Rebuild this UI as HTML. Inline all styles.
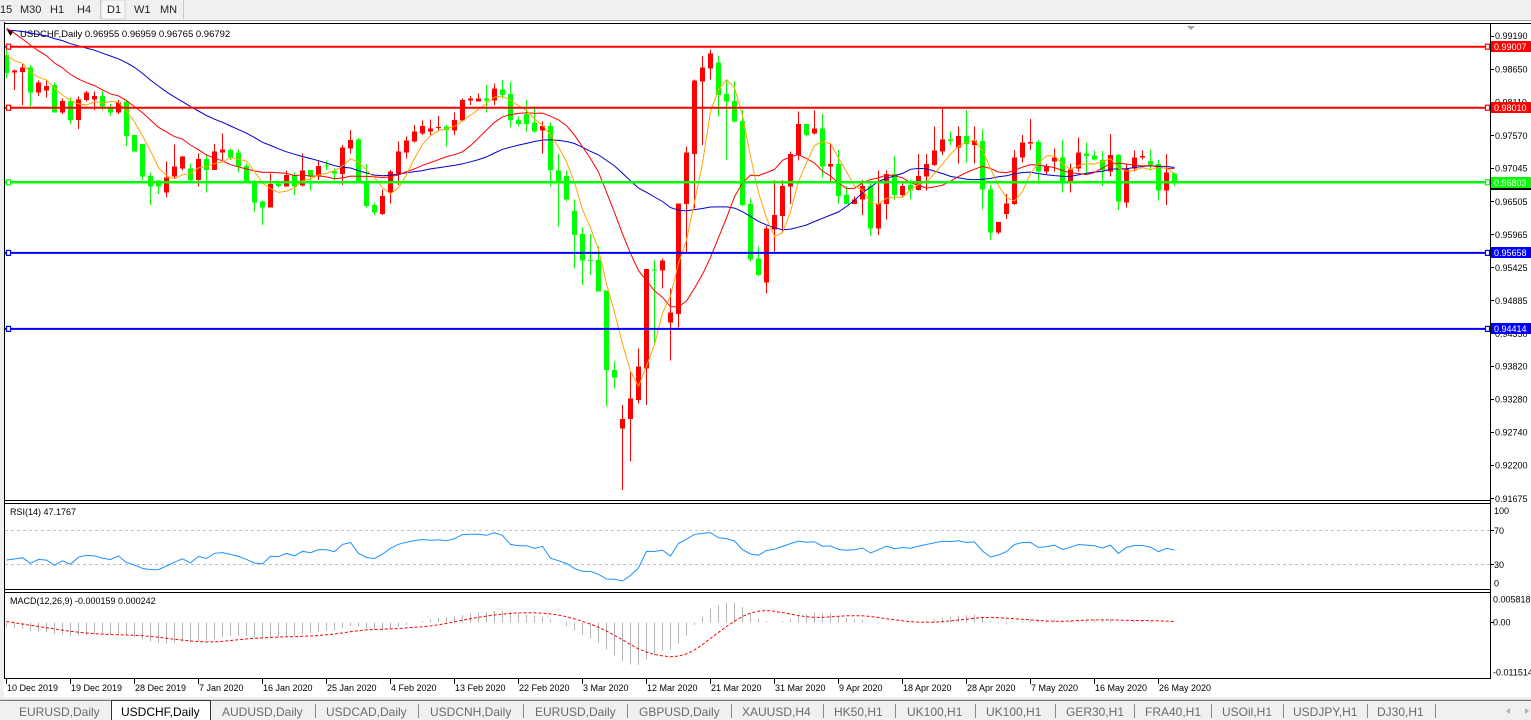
<!DOCTYPE html>
<html><head><meta charset="utf-8">
<style>
html,body{margin:0;padding:0;width:1531px;height:720px;overflow:hidden;background:#fff;}
svg{display:block;font-family:"Liberation Sans",Arial,sans-serif;}
</style></head><body>
<svg id="s" width="1531" height="720" viewBox="0 0 1531 720" xmlns="http://www.w3.org/2000/svg">
<defs>
<clipPath id="cm"><rect x="5" y="24" width="1485" height="477"/></clipPath>
<clipPath id="cr"><rect x="5" y="504" width="1485" height="86"/></clipPath>
<clipPath id="cd"><rect x="5" y="594" width="1485" height="84"/></clipPath>
</defs>
<rect x="0" y="0" width="1531" height="720" fill="#fff"/>
<!-- toolbar -->
<rect x="0" y="0" width="1531" height="20" fill="#f0f0f0"/>
<rect x="101" y="0" width="24" height="19" fill="#f7f7f7" stroke="#d4d4d4"/>
<line x1="100.5" y1="0" x2="100.5" y2="19" stroke="#c8c8c8"/>
<line x1="183.5" y1="0" x2="183.5" y2="19" stroke="#c8c8c8"/>
<g font-size="11" fill="#222">
<text x="0" y="13">15</text><text x="20" y="13">M30</text><text x="50" y="13">H1</text><text x="77" y="13">H4</text>
<text x="107" y="13">D1</text><text x="134" y="13">W1</text><text x="160" y="13">MN</text>
</g>
<line x1="0" y1="20.5" x2="1531" y2="20.5" stroke="#a0a0a0"/>
<rect x="0" y="21" width="4" height="679" fill="#f0f0f0"/>
<!-- frames -->
<g fill="none" stroke="#000" shape-rendering="crispEdges">
<line x1="4.5" y1="22" x2="4.5" y2="679"/>
<line x1="5" y1="23.5" x2="1531" y2="23.5"/>
<line x1="5" y1="500.5" x2="1491" y2="500.5"/>
<line x1="5" y1="503.5" x2="1491" y2="503.5"/>
<line x1="5" y1="589.5" x2="1491" y2="589.5"/>
<line x1="5" y1="592.5" x2="1491" y2="592.5"/>
<line x1="5" y1="678.5" x2="1491" y2="678.5"/>
<line x1="1490.5" y1="23" x2="1490.5" y2="679"/>
</g>
<!-- RSI levels -->
<g stroke="#c0c0c0" stroke-dasharray="3,3" shape-rendering="crispEdges">
<line x1="5" y1="530.5" x2="1490" y2="530.5"/>
<line x1="5" y1="564.5" x2="1490" y2="564.5"/>
</g>
<!-- y axis labels -->
<g font-size="9" fill="#000">
<text x="1495" y="39">0.99190</text>
<text x="1495" y="72.5">0.98650</text>
<text x="1495" y="105.5">0.98110</text>
<text x="1495" y="139">0.97570</text>
<text x="1495" y="171.5">0.97045</text>
<text x="1495" y="205">0.96505</text>
<text x="1495" y="238">0.95965</text>
<text x="1495" y="271">0.95425</text>
<text x="1495" y="304">0.94885</text>
<text x="1495" y="337">0.94350</text>
<text x="1495" y="369.5">0.93820</text>
<text x="1495" y="402.5">0.93280</text>
<text x="1495" y="435.5">0.92740</text>
<text x="1495" y="468.5">0.92200</text>
<text x="1495" y="502">0.91675</text>
<text x="1494" y="514">100</text>
<text x="1494" y="534">70</text>
<text x="1494" y="568">30</text>
<text x="1494" y="586.5">0</text>
<text x="1493" y="602.5">0.005818</text>
<text x="1493" y="625.5">0.00</text>
<text x="1493" y="675.5">-0.011514</text>
</g>
<g stroke="#000" shape-rendering="crispEdges">
<line x1="1491" y1="36.5" x2="1494" y2="36.5"/><line x1="1491" y1="69.5" x2="1494" y2="69.5"/>
<line x1="1491" y1="102.5" x2="1494" y2="102.5"/><line x1="1491" y1="135.5" x2="1494" y2="135.5"/>
<line x1="1491" y1="168.5" x2="1494" y2="168.5"/><line x1="1491" y1="201.5" x2="1494" y2="201.5"/>
<line x1="1491" y1="234.5" x2="1494" y2="234.5"/><line x1="1491" y1="267.5" x2="1494" y2="267.5"/>
<line x1="1491" y1="300.5" x2="1494" y2="300.5"/><line x1="1491" y1="366.5" x2="1494" y2="366.5"/>
<line x1="1491" y1="399.5" x2="1494" y2="399.5"/><line x1="1491" y1="432.5" x2="1494" y2="432.5"/>
<line x1="1491" y1="465.5" x2="1494" y2="465.5"/><line x1="1491" y1="498.5" x2="1494" y2="498.5"/>
<line x1="1491" y1="530.5" x2="1494" y2="530.5"/><line x1="1491" y1="564.5" x2="1494" y2="564.5"/>
<line x1="1491" y1="622.5" x2="1494" y2="622.5"/>
</g>
<!-- date axis -->
<g font-size="9" fill="#000">
<text x="7" y="691">10 Dec 2019</text>
<text x="71" y="691">19 Dec 2019</text>
<text x="135" y="691">28 Dec 2019</text>
<text x="199" y="691">7 Jan 2020</text>
<text x="263" y="691">16 Jan 2020</text>
<text x="327" y="691">25 Jan 2020</text>
<text x="391" y="691">4 Feb 2020</text>
<text x="455" y="691">13 Feb 2020</text>
<text x="519" y="691">22 Feb 2020</text>
<text x="583" y="691">3 Mar 2020</text>
<text x="647" y="691">12 Mar 2020</text>
<text x="711" y="691">21 Mar 2020</text>
<text x="775" y="691">31 Mar 2020</text>
<text x="839" y="691">9 Apr 2020</text>
<text x="903" y="691">18 Apr 2020</text>
<text x="967" y="691">28 Apr 2020</text>
<text x="1031" y="691">7 May 2020</text>
<text x="1095" y="691">16 May 2020</text>
<text x="1159" y="691">26 May 2020</text>
</g>
<g id="ticks" stroke="#000" shape-rendering="crispEdges"></g>
<!-- indicator labels -->
<g font-size="9" fill="#000">
<text x="10" y="515">RSI(14) 47.1767</text>
<text x="10" y="604">MACD(12,26,9) -0.000159 0.000242</text>
<text x="20" y="37" font-size="9.5">USDCHF,Daily  0.96955 0.96959 0.96765 0.96792</text>
</g>
<polygon points="7,30 14,30 10.5,36" fill="#000"/>
<polygon points="1187,26 1195,26 1191,30" fill="#a0a0a0"/>
<g id="plot"></g>
<!-- horizontal line labels -->
<g font-size="9">
<rect x="1491" y="41" width="40" height="11" fill="#ff0000"/><text x="1494" y="50" fill="#fff">0.99007</text>
<rect x="1491" y="102" width="40" height="11" fill="#ff0000"/><text x="1494" y="111" fill="#fff">0.98010</text>
<rect x="1491" y="177" width="40" height="11" fill="#00ff00"/><text x="1494" y="186" fill="#fff">0.96803</text>
<rect x="1491" y="188" width="40" height="2" fill="#000"/>
<rect x="1491" y="247" width="40" height="11" fill="#0000ff"/><text x="1494" y="256" fill="#fff">0.95658</text>
<rect x="1491" y="323" width="40" height="11" fill="#0000ff"/><text x="1494" y="332" fill="#fff">0.94414</text>
</g>
<!-- tab bar -->
<rect x="0" y="697" width="1531" height="23" fill="#f0f0f0"/>
<line x1="0" y1="699.5" x2="1531" y2="699.5" stroke="#d8d8d8"/>
<line x1="0" y1="700.5" x2="1531" y2="700.5" stroke="#7a7a7a"/>
<rect x="111.5" y="700.5" width="99" height="21" fill="#fff" stroke="#333"/>
<g stroke="#8a8a8a" shape-rendering="crispEdges">
<line x1="315.5" y1="704" x2="315.5" y2="718"/><line x1="418.5" y1="704" x2="418.5" y2="718"/>
<line x1="523.5" y1="704" x2="523.5" y2="718"/><line x1="627.5" y1="704" x2="627.5" y2="718"/>
<line x1="731.5" y1="704" x2="731.5" y2="718"/><line x1="823.5" y1="704" x2="823.5" y2="718"/>
<line x1="895.5" y1="704" x2="895.5" y2="718"/><line x1="975.5" y1="704" x2="975.5" y2="718"/>
<line x1="1055.5" y1="704" x2="1055.5" y2="718"/><line x1="1134.5" y1="704" x2="1134.5" y2="718"/>
<line x1="1211.5" y1="704" x2="1211.5" y2="718"/><line x1="1283.5" y1="704" x2="1283.5" y2="718"/>
<line x1="1367.5" y1="704" x2="1367.5" y2="718"/><line x1="1435.5" y1="704" x2="1435.5" y2="718"/>
</g>
<g font-size="12" fill="#6a6a6a">
<text x="19" y="716">EURUSD,Daily</text>
<text x="121" y="716" fill="#000">USDCHF,Daily</text>
<text x="222" y="716">AUDUSD,Daily</text>
<text x="326" y="716">USDCAD,Daily</text>
<text x="430" y="716">USDCNH,Daily</text>
<text x="535" y="716">EURUSD,Daily</text>
<text x="639" y="716">GBPUSD,Daily</text>
<text x="742" y="716">XAUUSD,H4</text>
<text x="834" y="716">HK50,H1</text>
<text x="907" y="716">UK100,H1</text>
<text x="986" y="716">UK100,H1</text>
<text x="1066" y="716">GER30,H1</text>
<text x="1145" y="716">FRA40,H1</text>
<text x="1222" y="716">USOil,H1</text>
<text x="1293" y="716">USDJPY,H1</text>
<text x="1377" y="716">DJ30,H1</text>
</g>
<polygon points="1510,708 1510,714 1506,711" fill="#b0b0b0"/>
<polygon points="1525,708 1525,714 1529,711" fill="#b0b0b0"/>
</svg>
<script>
(function(){
var NS="http://www.w3.org/2000/svg";
var plot=document.getElementById('plot');
function el(t,a,p){var e=document.createElementNS(NS,t);for(var k in a)e.setAttribute(k,a[k]);(p||plot).appendChild(e);return e;}
var D=[
['g',55,73,50,78],['r',70.7,72.7,69.3,90],['r',67.3,72,64,105],['g',67.7,92.7,65,106.7],['r',82.7,92.7,80.7,96],
['r',86,90.7,80.7,97.7],['g',85,112.7,82.7,112.7],['r',101,112.3,98.3,114],['g',101,120,97.3,124],['r',99.3,120,96.7,129],
['r',92.7,100,91,101.7],['r',96,99.3,91.7,110],['g',96,106.7,91,110.7],['g',108.7,112.7,104,116],['r',102.7,112.7,100,114],
['g',101.7,136,99.3,146],['g',135,151.7,135,151.7],['g',144,176.7,144,180],['g',176,186.7,172.7,205],['g',180.7,186.7,180,194],
['r',177.3,192.7,161.7,197.7],['r',166.7,176.7,144.3,178.3],['r',156.7,168.3,156,170.7],['g',168.3,180,163.3,181.7],['r',159,180,153.3,186.7],
['g',159,170,154,192.7],['r',151.7,170,144,170],['r',149.3,152.7,133.3,160],['g',150,157.3,148.3,160],['g',152.7,166.7,149.3,172.7],
['g',166,181.7,163.3,182.7],['g',181.7,202.7,180,211.7],['g',201.7,207.7,200.7,225],['r',184,207.7,173.3,207.7],['g',184,186,181.7,187.3],
['r',175,186.7,170.7,186.7],['g',175,186.7,172.7,195],['r',170.7,185.7,153.3,186.7],['g',170,176.7,170,190.7],['r',166,176,160.7,180],
['g',165.7,166.7,160.7,170],['g',171,173.3,168.3,180.7],['r',147.7,174,145,185],['r',140,148.3,130,153.3],['g',139.3,183.3,138,183.3],
['g',183.3,206,164,207.3],['g',205,212.7,202.7,215],['r',196,214,189.3,215],['r',171.7,192.7,170,203.3],['r',151.7,173.3,141.7,185],
['r',140.7,152.7,136.7,158.3],['r',131.7,141.7,125,142.7],['r',126,133.3,120.7,135],['r',128.3,131.7,119.3,135],['r',127,127.7,116,131.7],
['g',126.7,130,125,146.7],['r',120,130.7,112.7,135],['r',100,120.7,98.3,121.7],['r',98.3,100.7,96,105],['r',98.3,101.7,93.3,101.7],
['g',98.3,100.7,85,112.7],['r',88.3,100.7,83.3,105],['g',89.3,95,80,98.3],['g',94,120,81.7,127.3],['g',120,124,116.7,126.7],
['g',114,124,100,131.7],['g',122.7,131.7,106,132.7],['r',126,130.7,121.7,153.3],['g',126,170,122.7,186.7],['g',170.7,182.7,154,226.7],
['g',176,199.3,170.7,201.7],['g',211,235,199.3,268.3],['g',234,260.7,227.7,285],['g',260,261,234,275],['g',260,291.7,246,291.7],
['g',290.7,370,290.7,406.7],['g',370,377.7,361.7,388.3],['r',419,428.3,405,490],['r',398.3,419,371.7,461.7],['r',366.7,400,348.3,403.3],
['r',269,368.3,269,405],['g',269.3,270.7,260,343.3],['r',260.7,270.7,258.3,288.3],['r',312.7,322.7,288.3,360.7],['r',203.3,314,203.3,327.3],
['r',152.7,204,146.7,252.7],['r',80.7,154,79.3,208.3],['r',67.3,81.7,56,145],['r',53.3,68.3,49.3,79.3],['g',62.3,95,56,116.7],
['g',94,101.7,79.3,160],['g',101,121.7,81.7,122.7],['g',121,205,110,206.7],['g',204,259.3,198.3,261.7],['g',258.3,275,246.7,276],
['r',228.3,282.7,226,293.3],['r',215,229.3,180,251.7],['r',186,216,180,231.7],['r',154,186.7,151.7,204],['r',124,155,111.7,160.7],
['g',124,135,124,136.7],['r',128.3,133.3,110.7,134.3],['g',128.3,166.7,114,177.3],['r',164,166.7,143.3,181.7],['g',164,196,150,203.3],
['g',195,204,186,204],['r',199.3,204,196.7,204],['r',186,199.3,180,215],['g',186,228.3,183.3,236],['r',203.3,228.3,170.7,235],
['r',174,204,170.7,219.3],['g',174,195,156,199.3],['r',186,195,183.3,197.3],['g',185,190.7,179.3,199.3],['r',176,190,154,190.7],
['r',164,176.7,154,190.7],['r',150.7,165,126.7,166],['r',139.3,151.7,108.3,155],['g',139.3,141,131.7,145],['r',136,147.3,126.7,163.3],
['g',136,144,110,162.7],['r',140.7,145,126.7,163.3],['g',141,189.3,129.3,209.3],['g',189.3,232.7,185,240],['r',222,232.7,222,234],
['r',203.3,214,194,219],['r',157.3,204,150,205],['r',142.7,157.7,135,162.7],['r',142,143.7,119,150],['g',142,171.7,140,184],
['r',166,171.7,164,174],['r',157.3,161.7,148.3,171.7],['g',157.3,182.7,140,192.7],['r',169.3,183.3,163.3,192.7],['r',152.7,168.3,137.3,171.7],
['g',153.3,156,142.3,174],['g',155.3,159.3,150.7,160.7],['g',160,170.7,151,186],['r',155,171.7,134,176.7],['g',155,201.7,154,210],
['r',168.3,202.7,164,207.3],['r',157.3,168.3,150.7,171.7],['r',156,157.7,150.7,159.3],['g',161,165,149.3,170.7],['g',164,190.7,160,200.7],
['r',172.7,190.7,154,205],['g',173.3,183.3,172.7,186]
];
function X(i){return 6.5+8*i;}
// prefix history
var pre=[];
for(var k=0;k<40;k++)pre.push(45+(k%2?4:-4));
for(var k=0;k<16;k++)pre.push(48-2.1667*k+(k%2?-5:5));
pre=pre.concat([-3,-13,7,2,17,12,33,27,35,42,55,47,58]);
var P=pre.length;
var closes=D.map(function(d){return d[0]=='g'?d[2]:d[1];});
var all=pre.concat(closes);
function sma(n,idx){var s=0;for(var j=idx-n+1;j<=idx;j++)s+=all[j];return s/n;}
var gm=el('g',{'clip-path':'url(#cm)'});
function hline(y,c,w){
  el('line',{x1:5,y1:y,x2:1490,y2:y,stroke:c,'stroke-width':w},gm);
  el('rect',{x:6.5,y:y-2.5,width:4,height:5,fill:'#fff',stroke:c,'stroke-width':1.2},gm);
  el('rect',{x:1485.5,y:y-2.5,width:4,height:5,fill:'#fff',stroke:c,'stroke-width':1.2},gm);
}
for(var i=0;i<D.length;i++){
  var d=D[i],c=d[0]=='g'?'#00ff00':'#ff0000',x=X(i);
  el('line',{x1:x,y1:d[3],x2:x,y2:d[4],stroke:c,'stroke-width':1,'shape-rendering':'crispEdges'},gm);
  var h=Math.max(1,d[2]-d[1]);
  el('rect',{x:x-2.5,y:d[1],width:5,height:h,fill:c,'shape-rendering':'crispEdges'},gm);
}
function maLine(n,col){
  var pts=[];
  for(var i=0;i<D.length;i++){pts.push(X(i).toFixed(1)+','+sma(n,P+i).toFixed(1));}
  el('polyline',{points:pts.join(' '),fill:'none',stroke:col,'stroke-width':1},gm);
}
maLine(30,'#0000cd');
maLine(14,'#ff0000');
maLine(5,'#ffa500');
hline(46.7,'#ff0000',2);
hline(107.7,'#ff0000',2);
hline(182.3,'#00ff00',2.5);
hline(252.9,'#0000ff',2);
hline(328.9,'#0000ff',2);
// RSI
var gr=el('g',{'clip-path':'url(#cr)'});
var ag=0,al=0,n=14,rsi=[];
for(var k=1;k<all.length;k++){
  var ch=all[k-1]-all[k];var g=ch>0?ch:0,l=ch<0?-ch:0;
  if(k<=n){ag+=g/n;al+=l/n;}
  else{ag=(ag*(n-1)+g)/n;al=(al*(n-1)+l)/n;}
  rsi[k]=al==0?100:100-100/(1+ag/al);
}
var rp=[];
for(var i=0;i<D.length;i++){rp.push(X(i)+','+(590.7-0.8575*rsi[P+i]).toFixed(1));}
el('polyline',{points:rp.join(' '),fill:'none',stroke:'#1e90ff','stroke-width':1},gr);
// MACD
var gd=el('g',{'clip-path':'url(#cd)'});
var e12=all[0],e26=all[0],a12=2/13,a26=2/27,m=[];
for(var k=0;k<all.length;k++){
  e12=e12+a12*(all[k]-e12);e26=e26+a26*(all[k]-e26);
  m[k]=0.6417*(e12-e26);
}
var sp=[];
for(var i=0;i<D.length;i++){
  var k=P+i,x=X(i),v=m[k];
  var y0=622.5,y1=622.5+v;
  if(Math.abs(v)>=0.5)el('line',{x1:x,y1:Math.min(y0,y1),x2:x,y2:Math.max(y0,y1),stroke:'#b4b4b4','stroke-width':1,'shape-rendering':'crispEdges'},gd);
  var s=0;for(var j=k-8;j<=k;j++)s+=m[j];s/=9;
  sp.push(x+','+(622.5+s).toFixed(1));
}
el('polyline',{points:sp.join(' '),fill:'none',stroke:'#ff0000','stroke-width':1,'stroke-dasharray':'3,2'},gd);
var gt=document.getElementById('ticks');
for(var t=0;t<19;t++){var tx=6.5+64*t;el('line',{x1:tx,y1:679,x2:tx,y2:684},gt);}
})();
</script>
</body></html>
